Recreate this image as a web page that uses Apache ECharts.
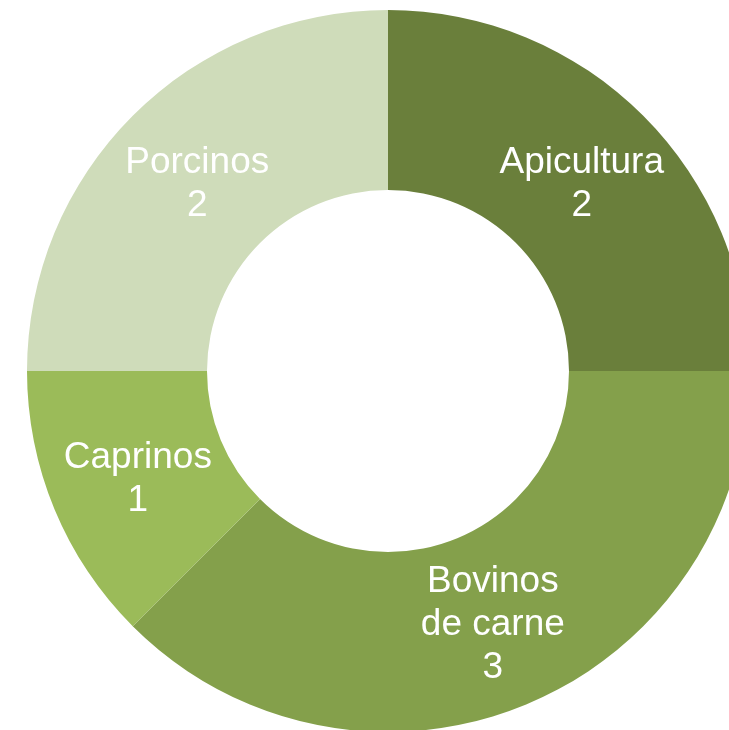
<!DOCTYPE html>
<html>
<head>
<meta charset="utf-8">
<script src="https://cdn.jsdelivr.net/npm/echarts@6/dist/echarts.min.js"></script>
<style>html,body{margin:0;padding:0;background:#fff;}#c{width:729px;height:730px;}</style>
</head>
<body>
<div id="c"></div>
<script>
var categories = ['Apicultura', 'Bovinos\nde carne', 'Caprinos', 'Porcinos'];
var values = [2, 3, 1, 2];
var colors = ['#6a7f3b', '#84a04b', '#9bbb59', '#cfdcba'];
var labelOffsets = [[0, 7], [0, 1], [3, 3], [3, 7]];

var chart = echarts.init(document.getElementById('c'), null, {renderer: 'canvas'});
chart.setOption({
  animation: false,
  series: [{
    type: 'pie',
    center: [388, 371],
    radius: [181, 361],
    startAngle: 90,
    clockwise: true,
    avoidLabelOverlap: false,
    label: {
      show: true,
      position: 'inside',
      formatter: '{b}\n{c}',
      color: '#ffffff',
      fontFamily: '"Liberation Sans", Arial, sans-serif',
      fontWeight: 'normal',
      fontSize: 37,
      lineHeight: 43,
      textBorderWidth: 0
    },
    labelLine: {show: false},
    itemStyle: {borderWidth: 0},
    emphasis: {disabled: true},
    data: categories.map(function (c, i) {
      return {name: c, value: values[i], itemStyle: {color: colors[i]}, label: {offset: labelOffsets[i]}};
    })
  }]
});
</script>
</body>
</html>
